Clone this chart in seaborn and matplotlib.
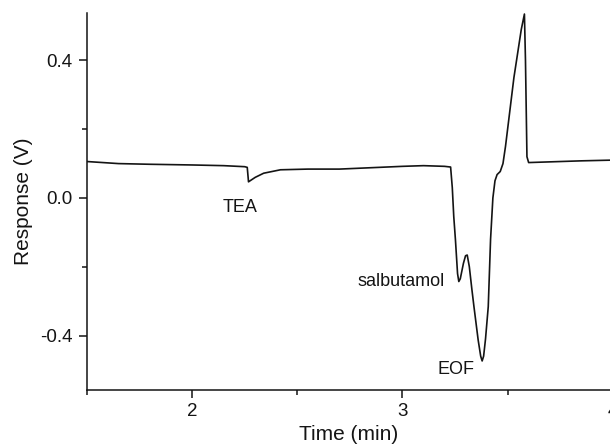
import matplotlib
matplotlib.use("Agg")
import matplotlib.pyplot as plt
import seaborn as sns
import pandas as pd
from matplotlib.ticker import MultipleLocator, FixedLocator

# Electropherogram trace
time_min = [1.50, 1.65, 1.80, 2.00, 2.15, 2.25, 2.262, 2.268, 2.30, 2.34, 2.42,
            2.55, 2.70, 2.85, 3.00, 3.10, 3.20, 3.229, 3.237, 3.244, 3.252, 3.262,
            3.268, 3.275, 3.29, 3.300, 3.308, 3.318, 3.33, 3.34, 3.36, 3.372, 3.379,
            3.386, 3.395, 3.408, 3.419, 3.43, 3.44, 3.45, 3.465, 3.478, 3.49, 3.51,
            3.53, 3.55, 3.565, 3.58, 3.585, 3.592, 3.60, 3.65, 3.75, 3.85, 3.99]
response_v = [0.106, 0.100, 0.098, 0.096, 0.094, 0.091, 0.089, 0.047, 0.060, 0.072, 0.082,
              0.084, 0.084, 0.088, 0.092, 0.094, 0.092, 0.090, 0.030, -0.054, -0.122, -0.220,
              -0.243, -0.235, -0.190, -0.168, -0.166, -0.200, -0.265, -0.316, -0.413, -0.460, -0.474,
              -0.460, -0.410, -0.316, -0.120, 0.000, 0.050, 0.068, 0.077, 0.100, 0.150, 0.250,
              0.350, 0.430, 0.490, 0.535, 0.400, 0.120, 0.103, 0.104, 0.106, 0.108, 0.110]

peak_labels = ["TEA", "salbutamol", "EOF"]
peak_label_x = [2.226, 2.996, 3.254]
peak_label_y = [-0.029, -0.243, -0.500]

x_ticks = [2, 3, 4]
y_ticks = [-0.4, 0.0, 0.4]
y_tick_labels = ["-0.4", "0.0", "0.4"]

df = pd.DataFrame({"t": time_min, "r": response_v})

sns.set_theme(style="ticks")
plt.rcParams["font.family"] = ["Liberation Sans", "DejaVu Sans"]

fig = plt.figure(figsize=(6.10, 4.48), dpi=100)
# axes run a little past the right edge of the figure, as in the cropped reference
ax_w_px = 540
ax = fig.add_axes([87 / 610, 58 / 448, ax_w_px / 610, 377 / 448])

sns.lineplot(data=df, x="t", y="r", ax=ax, color="#141414", linewidth=1.2,
             sort=False, estimator=None)

ax.set_xlim(1.5, 1.5 + ax_w_px / 210.3)
ax.set_ylim(-0.5585, 0.538)

ax.xaxis.set_major_locator(FixedLocator(x_ticks))
ax.xaxis.set_minor_locator(MultipleLocator(0.5))
ax.yaxis.set_major_locator(FixedLocator(y_ticks))
ax.yaxis.set_minor_locator(MultipleLocator(0.2))
ax.set_yticklabels(y_tick_labels)

ax.tick_params(axis="both", which="major", direction="out", length=5.5, width=1.1,
               labelsize=13.5, colors="#141414")
ax.tick_params(axis="both", which="minor", direction="out", length=3.5, width=1.1,
               colors="#141414")
ax.tick_params(axis="x", which="major", pad=3.5)
ax.tick_params(axis="y", which="major", pad=5)

for s in ["top", "right"]:
    ax.spines[s].set_visible(False)
for s in ["left", "bottom"]:
    ax.spines[s].set_linewidth(1.1)
    ax.spines[s].set_color("#141414")

ax.set_xlabel("Time (min)", fontsize=15, color="#141414")
ax.set_ylabel("Response (V)", fontsize=15, color="#141414")
ax.xaxis.set_label_coords((348.5 - 87) / ax_w_px, -0.093)
ax.yaxis.set_label_coords((33 - 87) / ax_w_px, 0.5)

for lab, lx, ly in zip(peak_labels, peak_label_x, peak_label_y):
    ax.text(lx, ly, lab, ha="center", va="center", fontsize=13, color="#141414")

fig.savefig("out.png", dpi=100)
